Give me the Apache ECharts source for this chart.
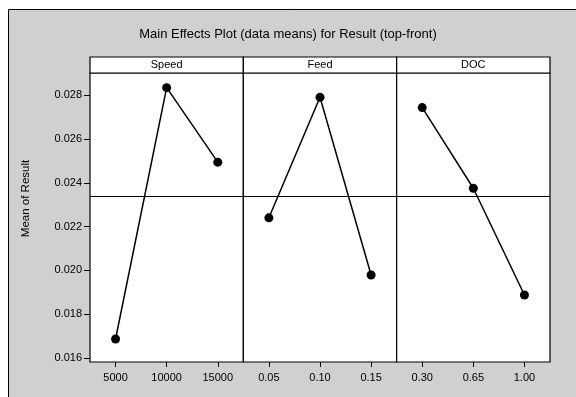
<!DOCTYPE html>
<html>
<head>
<meta charset="utf-8">
<script src="https://cdn.jsdelivr.net/npm/echarts@6/dist/echarts.min.js"></script>
<style>html,body{margin:0;padding:0;background:#fff;}#c{width:576px;height:397px;}</style>
</head>
<body>
<div id="c"></div>
<script>
const factors = ['Speed', 'Feed', 'DOC'];
const speedLevels = ['5000', '10000', '15000'];
const feedLevels = ['0.05', '0.10', '0.15'];
const docLevels = ['0.30', '0.65', '1.00'];
const speedMeans = [0.01687, 0.02834, 0.02494];
const feedMeans = [0.02240, 0.02790, 0.01979];
const docMeans = [0.02743, 0.02375, 0.01888];
const grandMean = 0.02337;
const yTicks = [0.016, 0.018, 0.020, 0.022, 0.024, 0.026, 0.028];

const levels = [speedLevels, feedLevels, docLevels];
const means = [speedMeans, feedMeans, docMeans];

const L = 90, R = 550, TOP = 73, BOT = 362, STRIP = 57;
const W = (R - L) / 3;
const font = 'Liberation Sans, Arial, sans-serif';

const grids = [], xAxes = [], yAxes = [], series = [], graphics = [];
graphics.push({type:'rect', shape:{x:8.5, y:9.5, width:580, height:400}, style:{fill:'#d0d0d0', stroke:'#000', lineWidth:1}, z:-10});
for (let i = 0; i < 3; i++) {
  const left = L + i * W;
  grids.push({left: left, top: TOP, width: W, height: BOT - TOP, show: true, backgroundColor: '#fff', borderColor: '#000', borderWidth: 1.2, containLabel: false});
  xAxes.push({type:'category', gridIndex:i, data: levels[i], boundaryGap:true,
    axisLine:{show:false}, axisTick:{show:true, alignWithLabel:true, length:5, lineStyle:{color:'#000'}},
    axisLabel:{color:'#000', fontSize:11, fontFamily:font, margin:10}, splitLine:{show:false}});
  yAxes.push({type:'value', gridIndex:i, min:0.01582, max:0.02901,
    axisLine:{show:false}, splitLine:{show:false},
    axisTick:{show:i===0, length:6, customValues: yTicks, lineStyle:{color:'#000'}},
    axisLabel:{show:i===0, color:'#000', fontSize:11, fontFamily:font, margin:8, customValues: yTicks, formatter: v => v.toFixed(3)},
    name: i===0 ? 'Mean of Result' : '', nameLocation:'middle', nameGap:58, nameRotate:90,
    nameTextStyle:{color:'#000', fontSize:11.5, fontFamily:font, padding:[0,0,0,38]}});
  series.push({type:'line', xAxisIndex:i, yAxisIndex:i, data: means[i], symbol:'circle', symbolSize:9,
    itemStyle:{color:'#000'}, lineStyle:{color:'#000', width:1.5}, animation:false,
    markLine:{silent:true, precision:8, symbol:'none', label:{show:false}, lineStyle:{color:'#000', width:1, type:'solid'}, data:[{yAxis: grandMean}], animation:false}});
  graphics.push({type:'rect', shape:{x:left, y:STRIP, width:W, height:TOP-STRIP}, style:{fill:'#fff', stroke:'#000', lineWidth:1.2}, z:10});
  graphics.push({type:'text', x:left + W/2, y:(STRIP+TOP)/2, style:{text:factors[i], fill:'#000', font:'11px ' + font, align:'center', verticalAlign:'middle'}, z:11});
}

const chart = echarts.init(document.getElementById('c'), null, {renderer:'canvas'});
chart.setOption({
  animation:false,
  backgroundColor:'#fff',
  title:{text:'Main Effects Plot (data means) for Result (top-front)', left:'center', top:23,
    textStyle:{color:'#000', fontSize:13, fontWeight:'normal', fontFamily:font}},
  grid: grids, xAxis: xAxes, yAxis: yAxes, series: series, graphic: graphics
});
</script>
</body>
</html>
